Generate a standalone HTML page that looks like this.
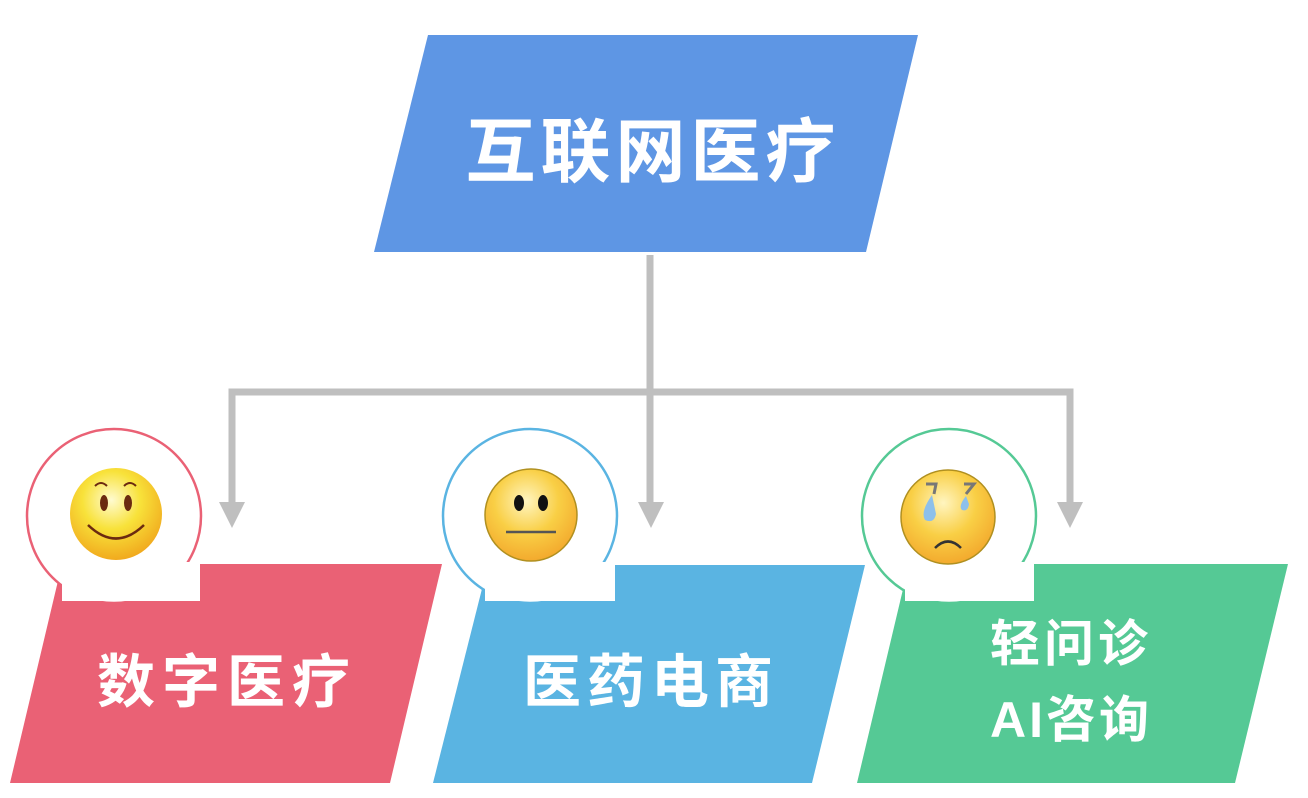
<!DOCTYPE html>
<html><head><meta charset="utf-8"><style>
html,body{margin:0;padding:0;background:#fff;}
svg{display:block;}
text{font-family:"Liberation Sans","Noto Sans CJK SC",sans-serif;font-weight:bold;fill:#fff;text-anchor:middle;}
</style></head><body>
<svg width="1308" height="798" viewBox="0 0 1308 798" xmlns="http://www.w3.org/2000/svg">
<defs>
<radialGradient id="fy" cx="0.45" cy="0.35" r="0.7">
<stop offset="0" stop-color="#fffbd0"/><stop offset="0.45" stop-color="#f8e23a"/><stop offset="1" stop-color="#f0a21a"/>
</radialGradient>
<radialGradient id="fo" cx="0.45" cy="0.35" r="0.7">
<stop offset="0" stop-color="#fff5c0"/><stop offset="0.5" stop-color="#f9cf45"/><stop offset="1" stop-color="#f2a42a"/>
</radialGradient>
</defs>
<!-- top -->
<polygon points="428,35 918,35 866,252 374,252" fill="#5e96e4"/>
<text x="653" y="176" font-size="70" letter-spacing="5">互联网医疗</text>
<!-- connectors -->
<g stroke="#bfbfbf" stroke-width="7" fill="none">
<line x1="650" y1="255" x2="650" y2="505"/>
<polyline points="232,505 232,392 1070,392 1070,505"/>
</g>
<g fill="#bfbfbf">
<polygon points="219,502 245,502 232,528"/>
<polygon points="638,502 664,502 651,528"/>
<polygon points="1057,502 1083,502 1070,528"/>
</g>
<!-- red -->
<polygon points="62,564 442,564 390,783 10,783" fill="#ea6175"/>
<circle cx="114" cy="516" r="87" fill="#fff" stroke="#ea6175" stroke-width="2.5"/>
<rect x="62" y="578" width="138" height="23" fill="#fff"/>
<rect x="160" y="562" width="40" height="20" fill="#fff"/>
<text x="227" y="702" font-size="58" letter-spacing="7">数字医疗</text>
<circle cx="116" cy="514" r="46" fill="url(#fy)"/>
<ellipse cx="104" cy="503" rx="4" ry="8" fill="#6b2a10"/>
<ellipse cx="128" cy="503" rx="4" ry="8" fill="#6b2a10"/>
<path d="M88 525 Q116 552 144 525" stroke="#6b2a10" stroke-width="2.5" fill="none"/>
<path d="M95 486 Q101 480 107 486 M124 486 Q130 480 136 486" stroke="#6b2a10" stroke-width="2" fill="none"/>
<!-- blue -->
<polygon points="488,565 865,565 812,783 433,783" fill="#5ab4e2"/>
<circle cx="530" cy="516" r="87" fill="#fff" stroke="#5ab4e2" stroke-width="2.5"/>
<rect x="485" y="582" width="130" height="19" fill="#fff"/>
<rect x="575" y="562" width="40" height="22" fill="#fff"/>
<text x="651" y="702" font-size="58" letter-spacing="6">医药电商</text>
<circle cx="531" cy="515" r="46" fill="url(#fo)" stroke="#b09020" stroke-width="1.5"/>
<ellipse cx="519" cy="503" rx="5" ry="8" fill="#111"/>
<ellipse cx="543" cy="503" rx="5" ry="8" fill="#111"/>
<line x1="506" y1="532" x2="556" y2="532" stroke="#555" stroke-width="2.5"/>
<!-- green -->
<polygon points="909,564 1288,564 1235,783 857,783" fill="#55c995"/>
<circle cx="949" cy="516" r="87" fill="#fff" stroke="#55c995" stroke-width="2.5"/>
<rect x="905" y="578" width="129" height="23" fill="#fff"/>
<rect x="994" y="562" width="40" height="20" fill="#fff"/>
<text x="1071" y="661" font-size="50" letter-spacing="4">轻问诊</text>
<text x="1071" y="737" font-size="50" letter-spacing="3">AI咨询</text>
<circle cx="948" cy="517" r="47" fill="url(#fo)" stroke="#b09020" stroke-width="1.5"/>
<path d="M926 484 L936 484 L934 494 M964 484 L974 484 L966 494" stroke="#777" stroke-width="3" fill="none"/>
<path d="M932 495 Q920 512 925 520 Q934 524 936 514 Z" fill="#8ec0ea"/>
<path d="M966 496 Q958 506 962 510 Q968 512 969 504 Z" fill="#8ec0ea"/>
<path d="M935 548 Q948 535 961 548" stroke="#333" stroke-width="2.5" fill="none"/>
</svg>
</body></html>
